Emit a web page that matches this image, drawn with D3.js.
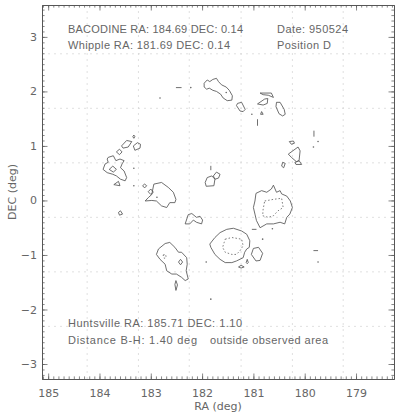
<!DOCTYPE html>
<html><head><meta charset="utf-8">
<script src="https://cdn.jsdelivr.net/npm/d3@7"></script>
<style>
body{margin:0;background:#fff;}
svg{display:block;}
text{font-family:"Liberation Sans",Arial,sans-serif;fill:#666;}
</style></head>
<body><svg id="chart" width="400" height="416"></svg>
<script>
// ---- data ----
const raDomain = [185.12, 178.26];
const decDomain = [3.585, -3.275];
const raTicks = [185, 184, 183, 182, 181, 180, 179];
const decTicks = [-3, -2, -1, 0, 1, 2, 3];
const gridRA = [184.24, 183.24, 182.25, 181.24, 180.24, 179.25];
const gridDEC = [2.69, 1.69, 0.69, -0.31, -1.31, -2.31];

// solid (lower level) contours, [RA, DEC]
const solidContours = [
  [[181.96,2.15],[181.90,2.21],[181.85,2.18],[181.79,2.22],[181.72,2.24],[181.68,2.18],[181.62,2.12],[181.53,2.08],[181.47,2.02],[181.41,1.92],[181.42,1.84],[181.51,1.83],[181.59,1.88],[181.64,1.95],[181.72,2.00],[181.79,2.02],[181.86,2.06],[181.91,2.04],[181.96,2.08]],
  [[181.31,1.78],[181.23,1.80],[181.16,1.67],[181.20,1.63],[181.26,1.64],[181.33,1.74]],
  [[180.87,1.97],[180.65,1.97],[180.61,1.89],[180.71,1.93],[180.81,1.94]],
  [[180.92,1.77],[180.78,1.86],[180.72,1.87],[180.73,1.78],[180.81,1.75]],
  [[180.55,1.80],[180.48,1.80],[180.40,1.67],[180.38,1.58],[180.43,1.55],[180.50,1.59],[180.56,1.72]],
  [[180.84,1.63],[180.81,1.58],[180.86,1.58]],
  [[180.32,0.85],[180.13,0.98],[180.09,0.91],[180.11,0.73],[180.16,0.71],[180.26,0.79]],
  [[180.19,0.70],[180.11,0.73],[180.06,0.66],[180.17,0.66]],
  [[180.30,1.08],[180.22,1.09],[180.20,1.05],[180.26,1.03]],
  [[180.43,0.70],[180.38,0.68],[180.41,0.60],[180.45,0.63]],
  [[183.57,1.00],[183.47,1.10],[183.37,1.08],[183.44,0.98],[183.54,0.96]],
  [[183.33,1.20],[183.31,1.17],[183.33,1.14],[183.35,1.17]],
  [[183.34,1.00],[183.26,1.06],[183.20,1.03],[183.21,0.96],[183.31,0.92]],
  [[183.67,0.89],[183.61,0.94],[183.56,0.89],[183.61,0.84]],
  [[183.83,0.79],[183.73,0.82],[183.68,0.73],[183.60,0.76],[183.52,0.73],[183.56,0.67],[183.59,0.60],[183.52,0.54],[183.47,0.42],[183.50,0.36],[183.59,0.39],[183.67,0.45],[183.74,0.48],[183.85,0.51],[183.93,0.57],[183.89,0.67],[183.83,0.70],[183.85,0.76]],
  [[183.81,0.57],[183.74,0.63],[183.67,0.57],[183.73,0.52]],
  [[183.72,0.29],[183.63,0.35],[183.60,0.27]],
  [[182.94,0.30],[182.79,0.33],[182.66,0.24],[182.56,0.15],[182.51,0.02],[182.53,-0.04],[182.63,-0.04],[182.69,-0.13],[182.79,-0.10],[182.89,-0.01],[182.98,0.00],[183.11,-0.01],[183.05,0.05],[182.98,0.11],[182.96,0.21]],
  [[183.16,0.27],[183.12,0.30],[183.08,0.27],[183.12,0.23]],
  [[183.05,0.16],[183.00,0.21],[182.95,0.15],[183.00,0.11]],
  [[183.63,-0.22],[183.59,-0.19],[183.55,-0.25],[183.61,-0.27]],
  [[181.94,0.33],[181.90,0.42],[181.81,0.45],[181.75,0.39],[181.77,0.27],[181.92,0.26]],
  [[181.78,0.45],[181.72,0.52],[181.65,0.48],[181.68,0.41],[181.75,0.39]],
  [[182.33,-0.43],[182.27,-0.26],[182.20,-0.24],[182.11,-0.31],[182.04,-0.29],[181.99,-0.36],[182.01,-0.43],[182.11,-0.40],[182.17,-0.36],[182.24,-0.43]],
  [[180.95,0.13],[180.84,0.18],[180.74,0.15],[180.65,0.21],[180.61,0.28],[180.55,0.15],[180.48,0.18],[180.45,0.12],[180.35,0.08],[180.28,-0.01],[180.24,-0.13],[180.29,-0.25],[180.35,-0.31],[180.39,-0.43],[180.48,-0.40],[180.61,-0.43],[180.74,-0.43],[180.87,-0.50],[180.94,-0.37],[180.97,-0.25],[181.00,-0.13],[180.97,-0.01]],
  [[181.75,-0.68],[181.65,-0.59],[181.52,-0.53],[181.39,-0.51],[181.23,-0.56],[181.13,-0.62],[181.07,-0.74],[181.08,-0.86],[181.13,-0.89],[181.17,-0.95],[181.20,-1.05],[181.33,-1.11],[181.42,-1.14],[181.55,-1.14],[181.65,-1.08],[181.75,-0.99],[181.83,-0.86],[181.85,-0.80]],
  [[181.00,-0.88],[180.90,-0.86],[180.82,-0.97],[180.87,-1.10],[180.95,-1.11],[181.04,-0.99]],
  [[181.12,-1.08],[181.10,-1.14],[181.12,-1.16],[181.14,-1.14]],
  [[181.29,-1.22],[181.24,-1.19],[181.18,-1.22],[181.24,-1.24]],
  [[182.85,-0.89],[182.72,-0.79],[182.63,-0.77],[182.53,-0.86],[182.46,-0.95],[182.40,-0.95],[182.30,-1.05],[182.29,-1.17],[182.31,-1.29],[182.27,-1.44],[182.33,-1.47],[182.40,-1.41],[182.50,-1.35],[182.59,-1.35],[182.69,-1.29],[182.72,-1.17],[182.82,-1.08],[182.89,-0.99]],
  [[182.46,-1.13],[182.42,-1.08],[182.38,-1.13],[182.42,-1.18]],
  [[182.53,-1.54],[182.51,-1.47],[182.48,-1.55],[182.51,-1.65]]
];

// dotted (higher level) contours
const dottedContours = [
  [[180.78,-0.01],[180.61,0.02],[180.45,0.04],[180.42,-0.13],[180.52,-0.19],[180.61,-0.28],[180.71,-0.31],[180.82,-0.28],[180.81,-0.16]],
  [[181.55,-0.71],[181.42,-0.68],[181.23,-0.71],[181.20,-0.83],[181.26,-0.92],[181.33,-0.99],[181.42,-0.99],[181.55,-0.95],[181.60,-0.86],[181.57,-0.77]],
  [[182.76,-1.00],[182.71,-0.99],[182.70,-1.05],[182.74,-1.06]]
];

// isolated dots and short dashes
const dots = [[181.03,1.58],[182.22,2.07],[179.74,1.08],[179.83,0.98],[182.82,1.88],[183.33,0.59],[183.33,0.27],[180.63,-0.52],[181.92,-1.13],[179.74,-1.13],[180.82,-0.71],[181.83,-1.81],[181.53,1.98],[182.88,0.06]];
const dashes = [
  [[180.92,1.49],[180.92,1.37]],
  [[182.51,2.07],[182.40,2.07]],
  [[179.82,1.28],[179.82,1.17]],
  [[181.83,0.635],[181.83,0.555]],
  [[181.03,-0.53],[180.94,-0.53]],
  [[179.83,-0.92],[179.74,-0.92]]
];

const infoLines = [
  {t:"BACODINE RA: 184.69 DEC: 0.14", x:68, y:33, w:175},
  {t:"Whipple RA: 181.69 DEC: 0.14", x:68, y:49, w:162},
  {t:"Date: 950524", x:277, y:33, w:71},
  {t:"Position D", x:277, y:49, w:54},
  {t:"Huntsville RA: 185.71 DEC: 1.10", x:68, y:327, w:174},
  {t:"Distance B-H: 1.40 deg", x:68, y:344, w:129},
  {t:"outside observed area", x:210, y:344, w:118}
];

// ---- drawing ----
const L = 42, R = 394, T = 5, B = 379;
const svg = d3.select("#chart");
svg.append("rect").attr("width",400).attr("height",416).attr("fill","#fff");
const x = d3.scaleLinear().domain(raDomain).range([L, R]);
const y = d3.scaleLinear().domain(decDomain).range([T, B]);

// grid
const g = svg.append("g").attr("stroke","#d2d2d2").attr("stroke-width",0.7).attr("stroke-dasharray","2,4");
g.selectAll(".gv").data(gridRA).join("line").attr("x1",d=>x(d)).attr("x2",d=>x(d)).attr("y1",T).attr("y2",B);
g.selectAll(".gh").data(gridDEC).join("line").attr("y1",d=>y(d)).attr("y2",d=>y(d)).attr("x1",L).attr("x2",R);

// minor tick values
const raMinor = d3.range(1851, 1782, -1).map(v=>v/10).filter(v=>v<=raDomain[0] && v>=raDomain[1]);
const decMinor = d3.range(-32, 36, 1).map(v=>v/10).filter(v=>v>=decDomain[1] && v<=decDomain[0]);

function styleAxis(sel){
  sel.selectAll("path").attr("stroke","#555").attr("stroke-width",0.9);
  sel.selectAll("line").attr("stroke","#555").attr("stroke-width",0.7);
  sel.selectAll("text").attr("fill","#666").style("font-family","'DejaVu Sans',sans-serif").style("font-size","11px");
}
// bottom
svg.append("g").attr("transform",`translate(0,${B})`).call(d3.axisBottom(x).tickValues(raMinor).tickSize(-2.6).tickSizeOuter(0).tickFormat("")).call(styleAxis);
svg.append("g").attr("transform",`translate(0,${B})`).call(d3.axisBottom(x).tickValues(raTicks).tickSize(-5.5).tickSizeOuter(0).tickPadding(10).tickFormat(d3.format("d"))).call(styleAxis);
// top
svg.append("g").attr("transform",`translate(0,${T})`).call(d3.axisTop(x).tickValues(raMinor).tickSize(-2.6).tickSizeOuter(0).tickFormat("")).call(styleAxis);
svg.append("g").attr("transform",`translate(0,${T})`).call(d3.axisTop(x).tickValues(raTicks).tickSize(-5.5).tickSizeOuter(0).tickFormat("")).call(styleAxis);
// left
svg.append("g").attr("transform",`translate(${L},0)`).call(d3.axisLeft(y).tickValues(decMinor).tickSize(-2.6).tickSizeOuter(0).tickFormat("")).call(styleAxis);
svg.append("g").attr("transform",`translate(${L},0)`).call(d3.axisLeft(y).tickValues(decTicks).tickSize(-5.5).tickSizeOuter(0).tickPadding(5).tickFormat(d=>d<0?"\u2212"+Math.abs(d):d)).call(styleAxis);
// right
svg.append("g").attr("transform",`translate(${R},0)`).call(d3.axisRight(y).tickValues(decMinor).tickSize(-2.6).tickSizeOuter(0).tickFormat("")).call(styleAxis);
svg.append("g").attr("transform",`translate(${R},0)`).call(d3.axisRight(y).tickValues(decTicks).tickSize(-5.5).tickSizeOuter(0).tickFormat("")).call(styleAxis);

// axis titles
svg.append("text").attr("x",(L+R)/2).attr("y",410).attr("text-anchor","middle")
  .style("font-family","'DejaVu Sans',sans-serif").style("font-size","11px").text("RA (deg)");
svg.append("text").attr("transform",`translate(16,${(T+B)/2}) rotate(-90)`).attr("text-anchor","middle")
  .style("font-family","'DejaVu Sans',sans-serif").style("font-size","11px").text("DEC (deg)");

// contours
const closed = d3.line().x(d=>x(d[0])).y(d=>y(d[1])).curve(d3.curveLinearClosed);
const open = d3.line().x(d=>x(d[0])).y(d=>y(d[1]));
svg.append("g").selectAll("path").data(solidContours).join("path")
  .attr("d",closed).attr("fill","none").attr("stroke","#555").attr("stroke-width",0.85);
svg.append("g").selectAll("path").data(dottedContours).join("path")
  .attr("d",closed).attr("fill","none").attr("stroke","#666").attr("stroke-width",0.85).attr("stroke-dasharray","1.5,2");
svg.append("g").selectAll("path").data(dashes).join("path")
  .attr("d",open).attr("fill","none").attr("stroke","#555").attr("stroke-width",0.85);
svg.append("g").selectAll("circle").data(dots).join("circle")
  .attr("cx",d=>x(d[0])).attr("cy",d=>y(d[1])).attr("r",0.8).attr("fill","#666");

// info text
svg.append("g").selectAll("text").data(infoLines).join("text")
  .attr("x",d=>d.x).attr("y",d=>d.y).attr("textLength",d=>d.w).attr("lengthAdjust","spacing")
  .style("font-size","11px").text(d=>d.t);
</script></body></html>
